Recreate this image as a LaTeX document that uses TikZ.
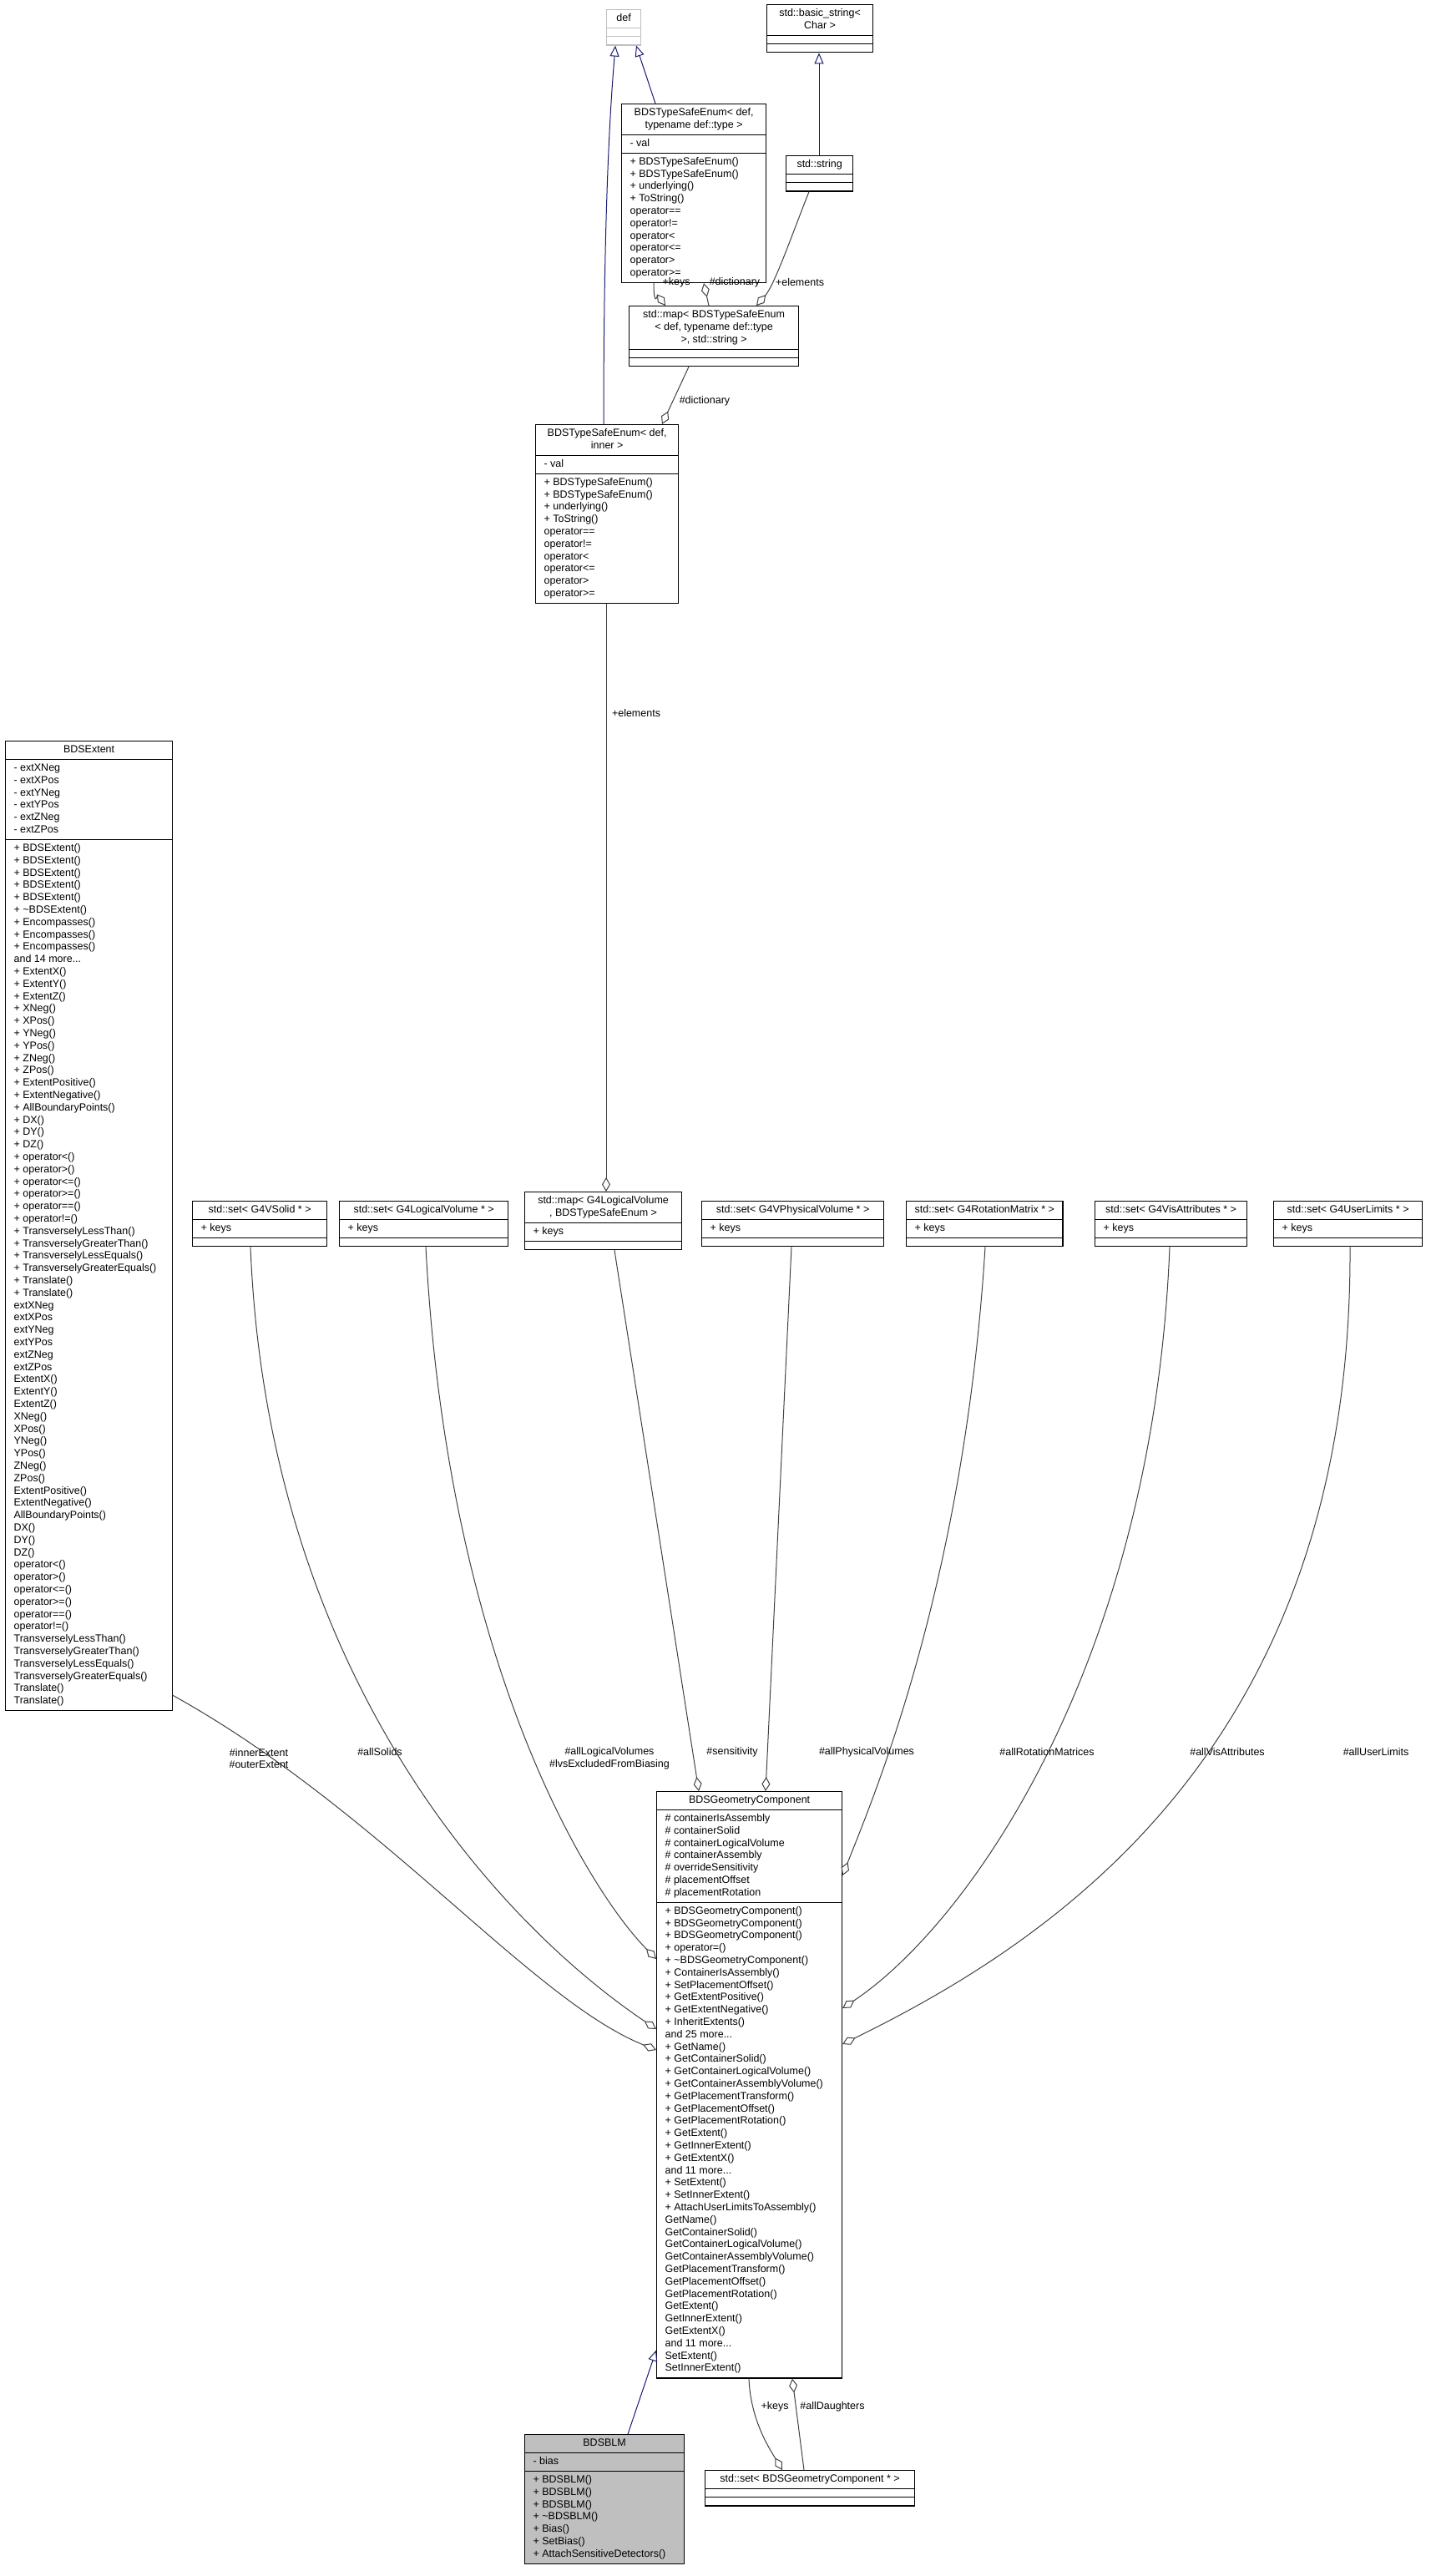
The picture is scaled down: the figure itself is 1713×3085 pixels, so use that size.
\documentclass[tikz,border=0pt]{standalone}
\usepackage{fontspec}
\setmainfont{Liberation Sans}
\usetikzlibrary{shapes.multipart,arrows.meta,calc}

\definecolor{inhblue}{HTML}{191970}
\definecolor{usegray}{HTML}{404040}
\definecolor{defgray}{HTML}{BFBFBF}

\newcommand{\cl}[1]{\begin{tabular}{@{}l@{}}#1\end{tabular}}
\newcommand{\cc}[1]{\begin{tabular}{@{}c@{}}#1\end{tabular}}
% \umlclass[opts]{name}{x,y}{width}{title}{attributes}{methods}
\newcommand{\umlclass}[7][]{%
  \node[classbox, minimum width=#4, #1] (#2) at (#3)
    {\cc{#5}\nodepart{two}\cl{#6}\nodepart{three}\cl{#7}};}

\tikzset{
  classbox/.style={draw, line width=1.2pt, rectangle split, rectangle split parts=3,
    rectangle split part align={center,left,left}, anchor=north west,
    inner xsep=10pt, inner ysep=3pt, font=\fontsize{12.5}{14.8}\selectfont},
  inherit/.style={draw=inhblue, line width=1pt, -{Triangle[open,length=13pt,width=11pt]}},
  member/.style={draw=usegray, line width=1pt, -{Diamond[open,length=17pt,width=10pt]}},
  elabel/.style={font=\fontsize{12.5}{14.8}\selectfont, align=center, inner sep=1pt}
}

\begin{document}
\begin{tikzpicture}[x=1pt,y=-1pt]
\useasboundingbox (0,0) rectangle (1713,3085);

% classes
\umlclass[draw=defgray]{def}{726,11}{41}{def}{}{}
\umlclass{bstr}{918,5}{127}{std::basic\_string\textless\\Char \textgreater}{}{}
\umlclass{tse}{744,124}{173}{BDSTypeSafeEnum\textless{} def,\\typename def::type \textgreater}{- val}
  {+ BDSTypeSafeEnum()\\+ BDSTypeSafeEnum()\\+ underlying()\\+ ToString()\\* operator==\\* operator!=\\* operator\textless\\* operator\textless=\\* operator\textgreater\\* operator\textgreater=}
\umlclass{str}{941,186}{80}{std::string}{}{}
\umlclass{map}{753,366}{203}{std::map\textless{} BDSTypeSafeEnum\\\textless{} def, typename def::type\\\textgreater, std::string \textgreater}{}{}
\umlclass{inner}{641,508}{171}{BDSTypeSafeEnum\textless{} def,\\inner \textgreater}{- val}
  {+ BDSTypeSafeEnum()\\+ BDSTypeSafeEnum()\\+ underlying()\\+ ToString()\\* operator==\\* operator!=\\* operator\textless\\* operator\textless=\\* operator\textgreater\\* operator\textgreater=}

\umlclass{ext}{6,887}{200}{BDSExtent}
  {- extXNeg\\- extXPos\\- extYNeg\\- extYPos\\- extZNeg\\- extZPos}
  {+ BDSExtent()\\+ BDSExtent()\\+ BDSExtent()\\+ BDSExtent()\\+ BDSExtent()\\+ \textasciitilde BDSExtent()\\+ Encompasses()\\+ Encompasses()\\+ Encompasses()\\and 14 more...\\+ ExtentX()\\+ ExtentY()\\+ ExtentZ()\\+ XNeg()\\+ XPos()\\+ YNeg()\\+ YPos()\\+ ZNeg()\\+ ZPos()\\+ ExtentPositive()\\+ ExtentNegative()\\+ AllBoundaryPoints()\\+ DX()\\+ DY()\\+ DZ()\\+ operator\textless()\\+ operator\textgreater()\\+ operator\textless=()\\+ operator\textgreater=()\\+ operator==()\\+ operator!=()\\+ TransverselyLessThan()\\+ TransverselyGreaterThan()\\+ TransverselyLessEquals()\\+ TransverselyGreaterEquals()\\+ Translate()\\+ Translate()\\* extXNeg\\* extXPos\\* extYNeg\\* extYPos\\* extZNeg\\* extZPos\\* ExtentX()\\* ExtentY()\\* ExtentZ()\\* XNeg()\\* XPos()\\* YNeg()\\* YPos()\\* ZNeg()\\* ZPos()\\* ExtentPositive()\\* ExtentNegative()\\* AllBoundaryPoints()\\* DX()\\* DY()\\* DZ()\\* operator\textless()\\* operator\textgreater()\\* operator\textless=()\\* operator\textgreater=()\\* operator==()\\* operator!=()\\* TransverselyLessThan()\\* TransverselyGreaterThan()\\* TransverselyLessEquals()\\* TransverselyGreaterEquals()\\* Translate()\\* Translate()}

\umlclass{solid}{230,1438}{161}{std::set\textless{} G4VSolid * \textgreater}{+ keys}{}
\umlclass{lvset}{406,1438}{202}{std::set\textless{} G4LogicalVolume * \textgreater}{+ keys}{}
\umlclass{lvmap}{628,1427}{188}{std::map\textless{} G4LogicalVolume\\*, BDSTypeSafeEnum \textgreater}{+ keys}{}
\umlclass{phys}{840,1438}{218}{std::set\textless{} G4VPhysicalVolume * \textgreater}{+ keys}{}
\umlclass{rot}{1085,1438}{183}{std::set\textless{} G4RotationMatrix * \textgreater}{+ keys}{}
\umlclass{vis}{1311,1438}{182}{std::set\textless{} G4VisAttributes * \textgreater}{+ keys}{}
\umlclass{ul}{1525,1438}{178}{std::set\textless{} G4UserLimits * \textgreater}{+ keys}{}

\umlclass{gc}{786,2145}{222}{BDSGeometryComponent}
  {\# containerIsAssembly\\\# containerSolid\\\# containerLogicalVolume\\\# containerAssembly\\\# overrideSensitivity\\\# placementOffset\\\# placementRotation}
  {+ BDSGeometryComponent()\\+ BDSGeometryComponent()\\+ BDSGeometryComponent()\\+ operator=()\\+ \textasciitilde BDSGeometryComponent()\\+ ContainerIsAssembly()\\+ SetPlacementOffset()\\+ GetExtentPositive()\\+ GetExtentNegative()\\+ InheritExtents()\\and 25 more...\\+ GetName()\\+ GetContainerSolid()\\+ GetContainerLogicalVolume()\\+ GetContainerAssemblyVolume()\\+ GetPlacementTransform()\\+ GetPlacementOffset()\\+ GetPlacementRotation()\\+ GetExtent()\\+ GetInnerExtent()\\+ GetExtentX()\\and 11 more...\\+ SetExtent()\\+ SetInnerExtent()\\+ AttachUserLimitsToAssembly()\\* GetName()\\* GetContainerSolid()\\* GetContainerLogicalVolume()\\* GetContainerAssemblyVolume()\\* GetPlacementTransform()\\* GetPlacementOffset()\\* GetPlacementRotation()\\* GetExtent()\\* GetInnerExtent()\\* GetExtentX()\\and 11 more...\\* SetExtent()\\* SetInnerExtent()}

\umlclass[fill=defgray]{blm}{628,2915}{191}{BDSBLM}{- bias}
  {+ BDSBLM()\\+ BDSBLM()\\+ BDSBLM()\\+ \textasciitilde BDSBLM()\\+ Bias()\\+ SetBias()\\+ AttachSensitiveDetectors()}
\umlclass{gcset}{844,2958}{251}{std::set\textless{} BDSGeometryComponent * \textgreater}{}{}

% inheritance
\draw[inherit] ($(tse.north west)+(41,0)$) -- ($(def.south west)+(36,0)$);
\draw[inherit] ($(inner.north west)+(82,0)$) .. controls ($(inner.north west)+(82,-300)$) and ($(def.south west)+(8,40)$) .. ($(def.south west)+(11,0)$);
\draw[inherit] ($(str.north west)+(40,0)$) -- ($(bstr.south west)+(63,0)$);
\draw[inherit] ($(blm.north west)+(124,0)$) -- ($(gc.south west)+(0,-34)$);

% members
\draw[member] ($(tse.south west)+(39,0)$) .. controls ($(tse.south west)+(39,30)$) and ($(map.north west)+(35,-12)$) .. ($(map.north west)+(44,0)$);
\draw[member] ($(map.north west)+(96,0)$) -- ($(tse.south west)+(99,0)$);
\draw[member] ($(str.south west)+(28,0)$) .. controls ($(str.south west)+(10,45)$) and ($(map.north west)+(175,-25)$) .. ($(map.north west)+(153,0)$);
\draw[member] ($(map.south west)+(72,0)$) -- ($(inner.north west)+(152,0)$);
\draw[member] ($(inner.south west)+(85,0)$) -- ($(lvmap.north west)+(98,0)$);

\draw[member] ($(ext.south east)+(0,-19)$) .. controls ($(ext.south east)+(250,120)$) and ($(gc.north west)+(-150,250)$) .. ($(gc.north west)+(0,310)$);
\draw[member] ($(solid.south west)+(70,0)$) .. controls ($(solid.south west)+(90,500)$) and ($(gc.north west)+(-200,150)$) .. ($(gc.north west)+(0,285)$);
\draw[member] ($(lvset.south west)+(104,0)$) .. controls ($(lvset.south west)+(130,500)$) and ($(gc.north west)+(-80,120)$) .. ($(gc.north west)+(0,201)$);
\draw[member] ($(lvmap.south west)+(108,0)$) -- ($(gc.north west)+(51,0)$);
\draw[member] ($(phys.south west)+(108,0)$) -- ($(gc.north west)+(131,0)$);
\draw[member] ($(rot.south west)+(95,0)$) .. controls ($(rot.south west)+(70,400)$) and ($(gc.north east)+(40,0)$) .. ($(gc.north east)+(0,101)$);
\draw[member] ($(vis.south west)+(90,0)$) .. controls ($(vis.south west)+(70,500)$) and ($(gc.north east)+(150,160)$) .. ($(gc.north east)+(0,260)$);
\draw[member] ($(ul.south west)+(92,0)$) .. controls ($(ul.south west)+(95,600)$) and ($(gc.north east)+(250,180)$) .. ($(gc.north east)+(0,303)$);

\draw[member] ($(gc.south west)+(111,0)$) .. controls ($(gc.south west)+(113,50)$) and ($(gcset.north west)+(78,-25)$) .. ($(gcset.north west)+(93,0)$);
\draw[member] ($(gcset.north west)+(119,0)$) -- ($(gc.south west)+(163,0)$);

% labels
\node[elabel] (lkeys) at (810,338) {+keys};
\node[elabel] (ldict) at (880,338) {\#dictionary};
\node[elabel] (lelem) at (958,338) {+elements};
\node[elabel] (ldict2) at (844,480) {\#dictionary};
\node[elabel] (lelem2) at (762,854) {+elements};
\node[elabel] (lext) at (310,2106) {\#innerExtent\\\#outerExtent};
\node[elabel] (lsol) at (455,2098) {\#allSolids};
\node[elabel] (llv) at (730,2106) {\#allLogicalVolumes\\\#lvsExcludedFromBiasing};
\node[elabel] (lsens) at (877,2098) {\#sensitivity};
\node[elabel] (lphys) at (1038,2098) {\#allPhysicalVolumes};
\node[elabel] (lrot) at (1254,2098) {\#allRotationMatrices};
\node[elabel] (lvis) at (1470,2098) {\#allVisAttributes};
\node[elabel] (lul) at (1648,2098) {\#allUserLimits};
\node[elabel] (lkeys2) at (928,2882) {+keys};
\node[elabel] (ldau) at (997,2882) {\#allDaughters};
\end{tikzpicture}
\end{document}
